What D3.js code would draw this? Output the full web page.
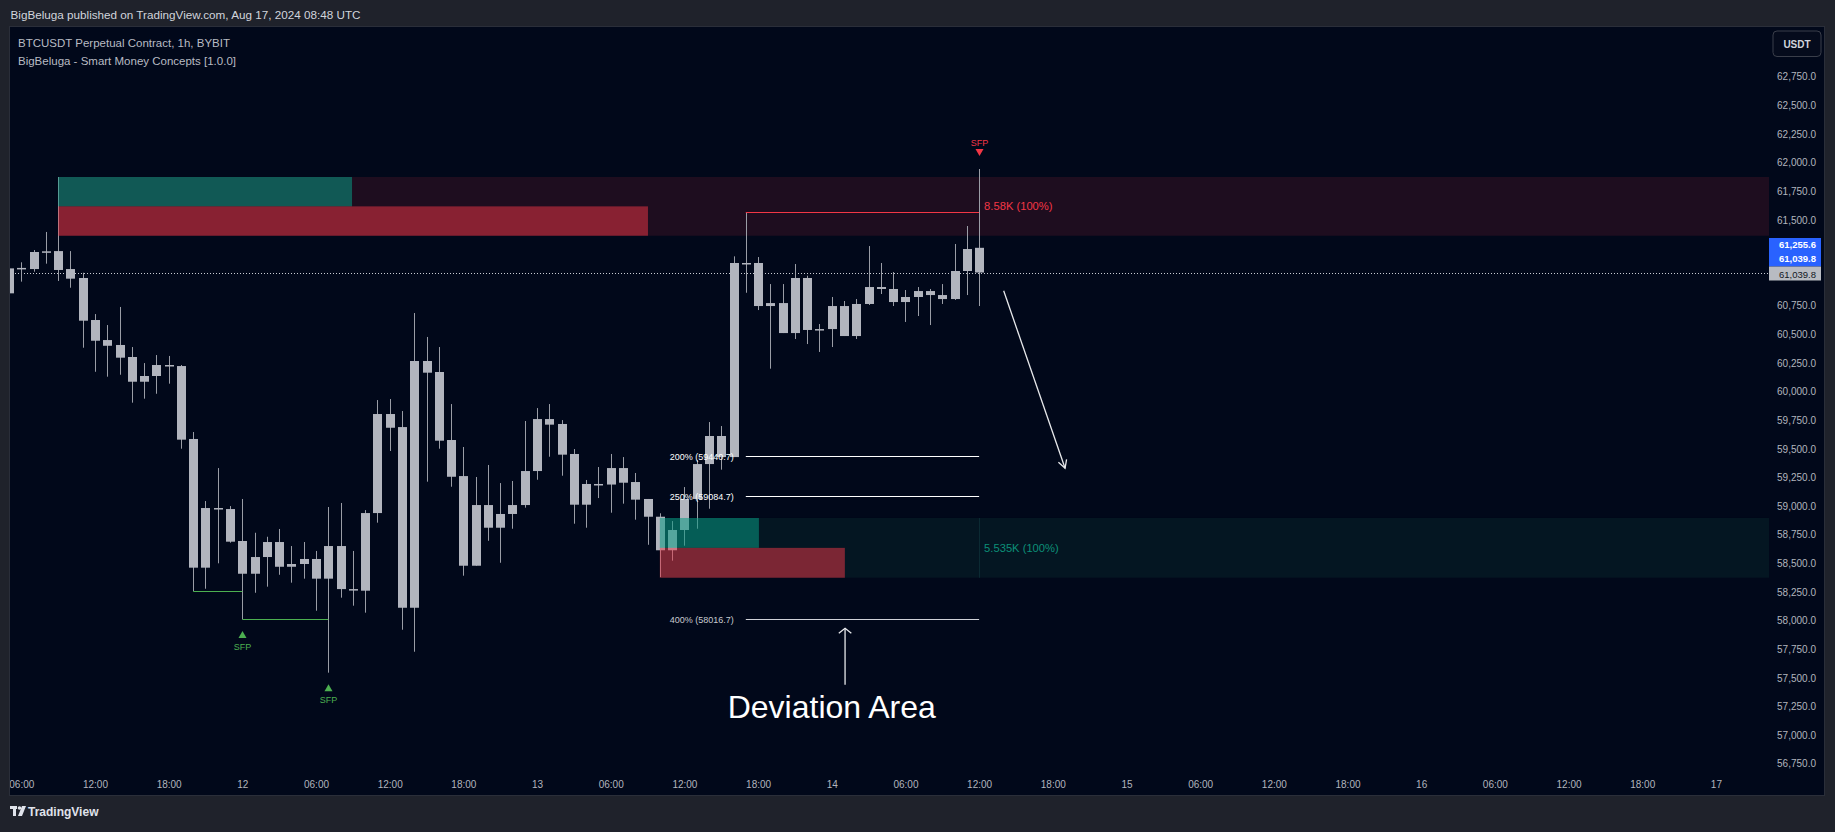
<!DOCTYPE html>
<html><head><meta charset="utf-8">
<script src="https://cdn.jsdelivr.net/npm/d3@7"></script>
<style>
html,body{margin:0;padding:0;background:#1f222b;}
svg{display:block;font-family:"Liberation Sans",Arial,sans-serif;}
</style></head>
<body>
<svg id="chart" width="1835" height="832"></svg>
<script>
// ---------------- DATA ----------------
const candleStart = new Date(Date.UTC(2024, 7, 11, 5));
const candleEnd   = new Date(Date.UTC(2024, 7, 14, 13));
const openP = [60858,61076,61070,61219,61227,61070,60992,60625,60450,60407,
  60302,60086,60136,60232,60223,59586,58462,58983,58974,58695,
  58409,58555,58686,58470,58494,58538,58366,58651,58275,58261,
  58939,59804,59690,58112,60267,60171,59577,59262,58479,59009,
  58811,58931,59009,59306,59760,59717,59455,59012,59193,59188,
  59332,59210,59062,58907,58614,58791,59062,59367,59612,59428,
  61123,61123,60747,60773,60511,60992,60538,60546,60747,60485,
  60765,60913,60896,60782,60826,60878,60843,60808,61053,61255.6];
const highP = [61090,61129,61236,61394,61874,61227,61038,60677,60581,60739,
  60389,60249,60319,60311,60232,59647,59044,59332,59000,59062,
  58767,58732,58800,58651,58686,58608,58992,59027,58608,58965,
  59926,59935,59830,60686,60477,60389,59891,59516,59254,59359,
  59201,59219,59743,59856,59891,59751,59498,59228,59341,59455,
  59428,59289,59062,58937,58869,59166,59402,59734,59699,61181,
  61566,61175,60939,60939,61114,61012,60590,60826,60791,60808,
  61271,61123,61044,60887,60913,60896,60939,61289,61446,61944];
const lowP = [60840,60960,61047,61117,60966,60907,60383,60173,60130,60147,
  59903,59938,59981,60069,59501,58258,58278,58500,58680,58011,
  58243,58296,58400,58331,58366,58086,57545,58200,58130,58069,
  58855,59481,57920,57728,59213,59501,59169,58392,58479,58697,
  58505,58802,58986,59230,59431,59265,58846,58811,59070,58942,
  59021,58881,58662,58380,58523,58654,58802,58977,59318,59428,
  60863,60712,60200,60511,60459,60415,60346,60389,60485,60459,
  60756,60852,60747,60608,60660,60581,60765,60800,60843,60747];
const closeP = [61076,61080,61219,61225,61062,60986,60619,60444,60400,60296,
  60086,60136,60232,60226,59580,58462,58983,58975,58689,58409,
  58555,58686,58470,58494,58538,58366,58651,58275,58270,58939,
  59804,59684,58112,60267,60165,59571,59256,58479,59009,58811,
  58931,59009,59306,59760,59711,59449,59012,59193,59188,59332,
  59204,59056,58907,58614,58791,59062,59367,59612,59428,61123,
  61118,60747,60773,60511,60992,60538,60546,60747,60485,60765,
  60913,60896,60782,60826,60878,60843,60808,61053,61245,61039.8];

const priceTicks = [56750,57000,57250,57500,57750,58000,58250,58500,58750,59000,59250,59500,
  59750,60000,60250,60500,60750,61000,61250,61500,61750,62000,62250,62500,62750];
const timeTickStart = new Date(Date.UTC(2024, 7, 11, 6));
const timeTickEnd   = new Date(Date.UTC(2024, 7, 17, 0));

// order-block zones
const zoneTimes   = [Date.UTC(2024,7,11,9), Date.UTC(2024,7,13,10)];
const zoneTops    = [61874, 58896];
const zoneBottoms = [61361, 58374];
const zoneBuyEnd  = [Date.UTC(2024,7,12,8,56), Date.UTC(2024,7,13,18,4)];
const zoneSellEnd = [Date.UTC(2024,7,13,9,2), Date.UTC(2024,7,14,1,4)];
const zoneLabels  = ["8.58K (100%)", "5.535K (100%)"];

// fib / deviation levels
const fibNames  = ["200%", "250%", "400%"];
const fibPrices = [59440.7, 59084.7, 58016.7];
const fibFrom = Date.UTC(2024,7,13,17), fibTo = Date.UTC(2024,7,14,12);

// swing levels
const swingHigh = [Date.UTC(2024,7,13,17), Date.UTC(2024,7,14,12), 61566];
const swingLowsFrom  = [Date.UTC(2024,7,11,20), Date.UTC(2024,7,12,0)];
const swingLowsTo    = [Date.UTC(2024,7,12,0),  Date.UTC(2024,7,12,7)];
const swingLowsPrice = [58258, 58011];
const sfpBullIdx = [19, 26];
const sfpBearIdx = [79];

const lastPrice = 61039.8, lastOpen = 61255.6;

// drawings
const trendArrow = [[Date.UTC(2024,7,14,14), 60880], [Date.UTC(2024,7,14,19), 59330]];
const devArrow   = [[Date.UTC(2024,7,14,1,5), 57440], [Date.UTC(2024,7,14,1,5), 57932]];
const devText    = [Date.UTC(2024,7,14,0), 57150, "Deviation Area"];

// ---------------- SETUP ----------------
const svg = d3.select("#chart");
const P = {l:10, t:27, r:1824, b:795, plotR:1769};
const times = d3.utcHour.range(candleStart, candleEnd);
const candles = times.map((t,i)=>({t, o:openP[i], h:highP[i], l:lowP[i], c:closeP[i]}));

const x = d3.scaleUtc().domain([timeTickStart, timeTickEnd]).range([21.3, 1715.9]);
const y = d3.scaleLinear().domain([56750, 62750]).range([763.7, 76.7]);

const C = {bg:"#01081a", frame:"#1f222b", candle:"#b2b5be", red:"#f23645", teal:"#089981",
  green:"#4caf50", text:"#b2b5be"};

svg.append("rect").attr("width",1835).attr("height",832).attr("fill",C.frame);
svg.append("rect").attr("x",P.l-0.5).attr("y",P.t-0.5).attr("width",P.r-P.l+1).attr("height",P.b-P.t+1)
  .attr("fill",C.bg).attr("stroke","#2a2e39");

const defs = svg.append("defs");
defs.append("clipPath").attr("id","plotclip").append("rect")
  .attr("x",P.l).attr("y",P.t).attr("width",P.plotR-P.l).attr("height",P.b-P.t);
defs.append("clipPath").attr("id","panelclip").append("rect")
  .attr("x",P.l).attr("y",P.t).attr("width",P.r-P.l).attr("height",P.b-P.t);

const plot = svg.append("g").attr("clip-path","url(#plotclip)");

// zones background
zoneTimes.forEach((t,i)=>{
  plot.append("rect").attr("x",x(t)).attr("y",y(zoneTops[i]))
    .attr("width",P.plotR - x(t)).attr("height",y(zoneBottoms[i]) - y(zoneTops[i]))
    .attr("fill", i===0 ? "#1e0d1f" : "#041622");
});
plot.append("line").attr("x1",Math.round(x(fibTo))+0.5).attr("x2",Math.round(x(fibTo))+0.5)
  .attr("y1",y(zoneTops[1])).attr("y2",y(zoneBottoms[1])).attr("stroke","#0b2a33").attr("stroke-width",1);

// last price dotted line
plot.append("line").attr("x1",P.l+5).attr("x2",P.plotR).attr("y1",Math.round(y(lastPrice))+0.5)
  .attr("y2",Math.round(y(lastPrice))+0.5).attr("stroke","#c9ccd3").attr("stroke-dasharray","1,2");

// candles
const bw = 9;
const cg = plot.append("g");
cg.selectAll(".wick").data(candles).join("line")
  .attr("x1",d=>Math.round(x(d.t))+0.5).attr("x2",d=>Math.round(x(d.t))+0.5)
  .attr("y1",d=>y(d.h)).attr("y2",d=>y(d.l)).attr("stroke","#9a9da6").attr("stroke-width",1);
cg.selectAll(".body").data(candles).join("rect")
  .attr("x",d=>Math.round(x(d.t))-4).attr("width",bw)
  .attr("y",d=>y(Math.max(d.o,d.c)))
  .attr("height",d=>Math.max(1.5, Math.abs(y(d.o)-y(d.c))))
  .attr("fill",C.candle);

// volume bars inside zones
zoneTimes.forEach((t,i)=>{
  const mid = (zoneTops[i]+zoneBottoms[i])/2;
  plot.append("rect").attr("x",x(t)).attr("y",y(zoneTops[i]))
    .attr("width",x(zoneBuyEnd[i])-x(t)).attr("height",y(mid)-y(zoneTops[i]))
    .attr("fill",C.teal).attr("fill-opacity",0.55);
  plot.append("rect").attr("x",x(t)).attr("y",y(mid))
    .attr("width",x(zoneSellEnd[i])-x(t)).attr("height",y(zoneBottoms[i])-y(mid))
    .attr("fill",C.red).attr("fill-opacity",0.5);
  plot.append("text").attr("x",x(fibTo)+5).attr("y",y(mid)+4)
    .attr("font-size",11.2).attr("fill", i===0 ? C.red : "#0c8f78").text(zoneLabels[i]);
});

// swing high line
plot.append("line").attr("x1",x(swingHigh[0])).attr("x2",x(swingHigh[1]))
  .attr("y1",Math.round(y(swingHigh[2]))+0.5).attr("y2",Math.round(y(swingHigh[2]))+0.5)
  .attr("stroke",C.red).attr("stroke-width",1);
// swing lows
swingLowsPrice.forEach((p,i)=>{
  plot.append("line").attr("x1",x(swingLowsFrom[i])).attr("x2",x(swingLowsTo[i]))
    .attr("y1",Math.round(y(p))+0.5).attr("y2",Math.round(y(p))+0.5)
    .attr("stroke",C.green).attr("stroke-width",1);
});
// SFP markers
sfpBullIdx.forEach(i=>{
  const d = candles[i], cx = Math.round(x(d.t))+0.5, tip = y(d.l) + 11.7;
  plot.append("path").attr("d",`M${cx},${tip} l4,7 l-8,0 z`).attr("fill",C.green);
  plot.append("text").attr("x",cx).attr("y",tip+18.5).attr("text-anchor","middle")
    .attr("font-size",9).attr("fill",C.green).text("SFP");
});
sfpBearIdx.forEach(i=>{
  const d = candles[i], cx = Math.round(x(d.t))+0.5, tip = y(d.h) - 13;
  plot.append("path").attr("d",`M${cx},${tip} l4,-7 l-8,0 z`).attr("fill",C.red);
  plot.append("text").attr("x",cx).attr("y",tip-10).attr("text-anchor","middle")
    .attr("font-size",9).attr("fill",C.red).text("SFP");
});

// fib lines
fibPrices.forEach((p,i)=>{
  const yy = Math.round(y(p))+0.5;
  plot.append("line").attr("x1",x(fibFrom)).attr("x2",x(fibTo)).attr("y1",yy).attr("y2",yy)
    .attr("stroke", i<2 ? "#ffffff" : "#d0d2d8").attr("stroke-width",1.2);
  plot.append("text").attr("x",x(fibFrom)-12).attr("y",yy+3.5).attr("text-anchor","end")
    .attr("font-size",9).attr("fill", i<2 ? "#ffffff" : "#c8cad0")
    .text(`${fibNames[i]} (${p.toFixed(1)})`);
});

// drawings
function arrow(g, a, b, wing, ang){
  const x1=x(a[0]), y1=y(a[1]), x2=x(b[0]), y2=y(b[1]);
  g.append("line").attr("x1",x1).attr("y1",y1).attr("x2",x2).attr("y2",y2)
    .attr("stroke","#e8e9ec").attr("stroke-width",1.3);
  const th = Math.atan2(y2-y1, x2-x1);
  const p1 = [x2 - wing*Math.cos(th-ang), y2 - wing*Math.sin(th-ang)];
  const p2 = [x2 - wing*Math.cos(th+ang), y2 - wing*Math.sin(th+ang)];
  g.append("path").attr("d",`M${p1[0]},${p1[1]} L${x2},${y2} L${p2[0]},${p2[1]}`)
    .attr("fill","none").attr("stroke","#e8e9ec").attr("stroke-width",1.3);
}
arrow(plot, trendArrow[0], trendArrow[1], 9, 0.5);
arrow(plot, devArrow[0], devArrow[1], 8, 0.9);
plot.append("text").attr("x",x(devText[0])).attr("y",y(devText[1])).attr("text-anchor","middle")
  .attr("font-size",32).attr("fill","#ffffff").text(devText[2]);

// ---------------- AXES ----------------
const yl = Math.round(y(lastPrice));
const boxTop = yl - 35, boxBottom = yl + 7.5;
// price-scale labels hidden behind the last-price badges are skipped (as TradingView does)
const visibleTicks = priceTicks.filter(p => y(p) + 7 < boxTop || y(p) - 7 > boxBottom);
const yAxis = d3.axisLeft(y).tickValues(visibleTicks).tickFormat(d3.format(",.1f")).tickSize(0).tickPadding(0);
const ya = svg.append("g").attr("transform","translate(1816,0)").call(yAxis);
ya.select(".domain").remove();
ya.selectAll("text").attr("font-size",10).attr("fill",C.text).attr("font-family","Liberation Sans, Arial, sans-serif");

const timeTicks = d3.utcHour.every(6).range(timeTickStart, new Date(+timeTickEnd+1));
const xAxis = d3.axisBottom(x).tickValues(timeTicks)
  .tickFormat(d=> d.getUTCHours()===0 ? d3.utcFormat("%-d")(d) : d3.utcFormat("%H:%M")(d))
  .tickSize(0).tickPadding(0);
const xa = svg.append("g").attr("clip-path","url(#panelclip)").append("g")
  .attr("transform","translate(0,780.5)").call(xAxis);
xa.select(".domain").remove();
xa.selectAll("text").attr("font-size",10).attr("fill",C.text).attr("font-family","Liberation Sans, Arial, sans-serif");

// price badges on axis
svg.append("rect").attr("x",1769).attr("y",boxTop).attr("width",52).attr("height",28.5).attr("fill","#2962ff");
svg.append("text").attr("x",1816).attr("y",yl-25).attr("text-anchor","end").attr("font-size",9.5)
  .attr("font-weight","bold").attr("fill","#ffffff").text(d3.format(",.1f")(lastOpen));
svg.append("text").attr("x",1816).attr("y",yl-11).attr("text-anchor","end").attr("font-size",9.5)
  .attr("font-weight","bold").attr("fill","#ffffff").text(d3.format(",.1f")(lastPrice));
svg.append("rect").attr("x",1769).attr("y",yl-6.5).attr("width",52).attr("height",14).attr("fill","#b8bbc2");
svg.append("text").attr("x",1816).attr("y",yl+4.5).attr("text-anchor","end").attr("font-size",9.5)
  .attr("fill","#131722").text(d3.format(",.1f")(lastPrice));

// USDT button
svg.append("rect").attr("x",1773).attr("y",31).attr("width",48).attr("height",25.5).attr("rx",4)
  .attr("fill","#050b1c").attr("stroke","#3a3e4a");
svg.append("text").attr("x",1797).attr("y",47.5).attr("text-anchor","middle").attr("font-size",10)
  .attr("font-weight","bold").attr("fill","#d1d4dc").text("USDT");

// header & legend
svg.append("text").attr("x",10.5).attr("y",19).attr("font-size",11.7).attr("fill","#d1d4dc")
  .text("BigBeluga published on TradingView.com, Aug 17, 2024 08:48 UTC");
svg.append("text").attr("x",18).attr("y",46.5).attr("font-size",11.5).attr("fill","#b8bbc3")
  .text("BTCUSDT Perpetual Contract, 1h, BYBIT");
svg.append("text").attr("x",18).attr("y",64.5).attr("font-size",11.5).attr("fill","#b8bbc3")
  .text("BigBeluga - Smart Money Concepts [1.0.0]");

// TradingView logo
const lg = svg.append("g").attr("transform","translate(10,806)").attr("fill","#e0e3eb");
lg.append("rect").attr("x",0).attr("y",0).attr("width",7).attr("height",3);
lg.append("rect").attr("x",3).attr("y",0).attr("width",3).attr("height",10);
lg.append("circle").attr("cx",9.5).attr("cy",2).attr("r",1.8);
lg.append("path").attr("d","M12,0 L16,0 L12,10 L8,10 Z");
svg.append("text").attr("x",28).attr("y",816).attr("font-size",12).attr("font-weight","bold")
  .attr("fill","#e0e3eb").text("TradingView");
</script>
</body></html>
